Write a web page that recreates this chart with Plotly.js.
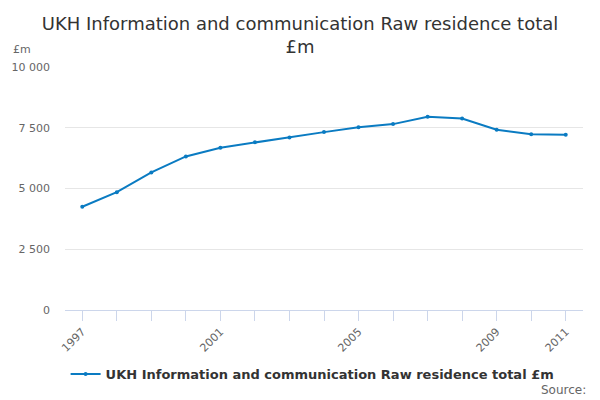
<!DOCTYPE html>
<html>
<head>
<meta charset="utf-8">
<script src="https://cdn.plot.ly/plotly-3.0.1.min.js"></script>
<style>html,body{margin:0;padding:0;background:#fff}#chart{width:600px;height:400px}</style>
</head>
<body>
<div id="chart"></div>
<script>
const years = [1997,1998,1999,2000,2001,2002,2003,2004,2005,2006,2007,2008,2009,2010,2011];
const values = [4250,4850,5660,6320,6680,6900,7100,7320,7520,7650,7950,7880,7420,7230,7210];
const xTickVals = [1997,2001,2005,2009,2011];
const yTickVals = [0,2500,5000,7500,10000];
const yTickText = ['0','2 500','5 000','7 500','10 000'];
const seriesName = 'UKH Information and communication Raw residence total £m';
const titleText = 'UKH Information and communication Raw residence total<br>£m';

const font = 'DejaVu Sans, Lucida Grande, sans-serif';
Plotly.newPlot('chart', [{
  x: years, y: values, name: seriesName, type: 'scatter', mode: 'lines+markers',
  line: {color: '#0a7bc2', width: 2},
  marker: {color: '#0a7bc2', size: 4}
}], {
  width: 600, height: 400,
  margin: {l: 65, r: 17, t: 67, b: 89},
  paper_bgcolor: '#fff', plot_bgcolor: '#fff',
  font: {family: font, color: '#666'},
  title: {text: titleText, x: 0.5, xanchor: 'center', y: 0.925, yanchor: 'middle', yref: 'container',
          font: {family: font, size: 18, color: '#333'}},
  showlegend: true,
  legend: {orientation: 'h', x: 0.478, xanchor: 'center', y: -0.258, yanchor: 'middle', itemwidth: 30,
           font: {family: font, size: 13, color: '#333', weight: 'bold'}},
  xaxis: {
    range: [1996.5, 2011.5], tickvals: xTickVals, ticktext: xTickVals.map(String),
    tickangle: -45, ticks: 'outside', ticklen: 10, tickcolor: '#ccd6eb', tickwidth: 1,
    minor: {dtick: 1, tick0: 1997, ticks: 'outside', ticklen: 10, tickcolor: '#ccd6eb', tickwidth: 1, showgrid: false},
    showline: true, linecolor: '#ccd6eb', linewidth: 1, showgrid: false, zeroline: false,
    tickfont: {family: font, size: 11, color: '#666'}, fixedrange: true
  },
  yaxis: {
    range: [0, 10000], tickvals: yTickVals, ticktext: yTickText,
    showgrid: true, gridcolor: '#e6e6e6', gridwidth: 1, zeroline: false, showline: false,
    ticks: '', ticklabelstandoff: 14,
    tickfont: {family: font, size: 11, color: '#666'}, fixedrange: true
  },
  annotations: [
    {text: '£m', xref: 'paper', yref: 'paper', x: -0.104, y: 1.07, xanchor: 'left', yanchor: 'middle',
     showarrow: false, font: {family: font, size: 11, color: '#666'}},
    {text: 'Source:', xref: 'paper', yref: 'paper', x: 1.0097, y: -0.33, xanchor: 'right', yanchor: 'middle',
     showarrow: false, font: {family: font, size: 12, color: '#666'}}
  ]
}, {displayModeBar: false, staticPlot: true});
</script>
</body>
</html>
